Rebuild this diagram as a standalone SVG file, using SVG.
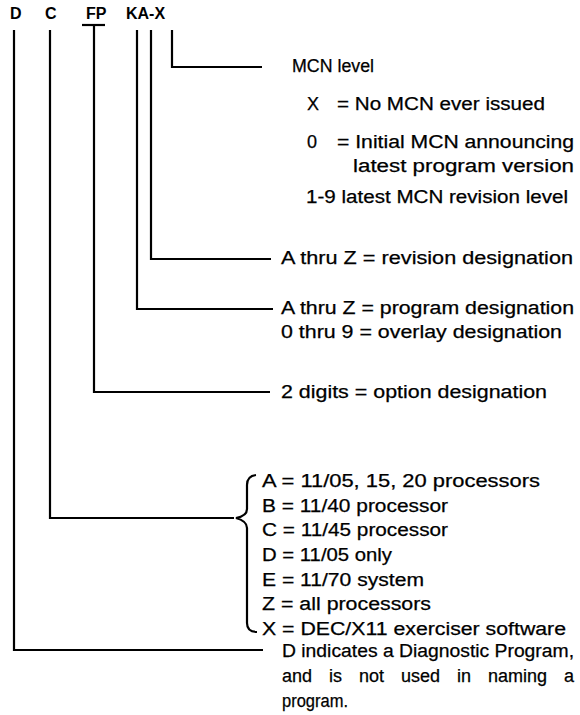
<svg xmlns="http://www.w3.org/2000/svg" width="580" height="715" viewBox="0 0 580 715">
<style>
.t{font-family:"Liberation Sans",Arial,sans-serif;font-size:18px;fill:#000;stroke:#000;stroke-width:0.25}
.h{font-family:"Liberation Sans",Arial,sans-serif;font-size:16px;font-weight:bold;fill:#000}
.c{fill:none;stroke:#000;stroke-width:2.2;stroke-linejoin:miter}
</style>
<rect width="580" height="715" fill="#fff"/>
<g id="header">
<text class="h" x="10" y="19">D</text>
<text class="h" x="45" y="19">C</text>
<text class="h" x="86" y="19">FP</text>
<text class="h" x="126" y="19">KA-X</text>
<line class="c" x1="82" y1="25" x2="105" y2="25"/>
</g>
<g id="connectors">
<polyline class="c" points="172,30 172,67 262,67"/>
<polyline class="c" points="151,30 151,259 271,259"/>
<polyline class="c" points="137,30 137,309 273,309"/>
<polyline class="c" points="94,26 94,392 270,392"/>
<polyline class="c" points="50,30 50,518 234,518"/>
<polyline class="c" points="14,30 14,650 263,650"/>
<path class="c" stroke-width="2.6" d="M256,475 Q247,476 247,485 L247,509 Q247,516 236,518 Q247,521 247,528 L247,623 Q247,632 257,632"/>
</g>
<g id="mcn">
<text class="t" x="292" y="72" textLength="82" lengthAdjust="spacingAndGlyphs">MCN level</text>
<text class="t" x="307" y="110">X</text>
<text class="t" x="337" y="110" textLength="208" lengthAdjust="spacingAndGlyphs">= No MCN ever issued</text>
<text class="t" x="307" y="148">0</text>
<text class="t" x="337" y="148" textLength="237" lengthAdjust="spacingAndGlyphs">= Initial MCN announcing</text>
<text class="t" x="353" y="172" textLength="221" lengthAdjust="spacingAndGlyphs">latest program version</text>
<text class="t" x="306" y="203" textLength="262" lengthAdjust="spacingAndGlyphs">1-9 latest MCN revision level</text>
</g>
<g id="revision">
<text class="t" x="281" y="264" textLength="292" lengthAdjust="spacingAndGlyphs">A thru Z = revision designation</text>
</g>
<g id="program">
<text class="t" x="281" y="314" textLength="293" lengthAdjust="spacingAndGlyphs">A thru Z = program designation</text>
<text class="t" x="281" y="338" textLength="281" lengthAdjust="spacingAndGlyphs">0 thru 9 = overlay designation</text>
</g>
<g id="option">
<text class="t" x="281" y="398" textLength="266" lengthAdjust="spacingAndGlyphs">2 digits = option designation</text>
</g>
<g id="processor">
<text class="t" x="262" y="487" textLength="278" lengthAdjust="spacingAndGlyphs">A = 11/05, 15, 20 processors</text>
<text class="t" x="262" y="512" textLength="186" lengthAdjust="spacingAndGlyphs">B = 11/40 processor</text>
<text class="t" x="262" y="536" textLength="186" lengthAdjust="spacingAndGlyphs">C = 11/45 processor</text>
<text class="t" x="262" y="561" textLength="130" lengthAdjust="spacingAndGlyphs">D = 11/05 only</text>
<text class="t" x="262" y="586" textLength="162" lengthAdjust="spacingAndGlyphs">E = 11/70 system</text>
<text class="t" x="262" y="610" textLength="169" lengthAdjust="spacingAndGlyphs">Z = all processors</text>
<text class="t" x="262" y="635" textLength="304" lengthAdjust="spacingAndGlyphs">X = DEC/X11 exerciser software</text>
</g>
<g id="diagnostic">
<text class="t" x="282" y="657" textLength="292" lengthAdjust="spacingAndGlyphs">D indicates a Diagnostic Program,</text>
<text class="t" y="682"><tspan x="282">and</tspan><tspan x="329">is</tspan><tspan x="359">not</tspan><tspan x="401">used</tspan><tspan x="457">in</tspan><tspan x="488">naming</tspan><tspan x="564">a</tspan></text>
<text class="t" x="282" y="707" textLength="66" lengthAdjust="spacingAndGlyphs">program.</text>
</g>
</svg>
